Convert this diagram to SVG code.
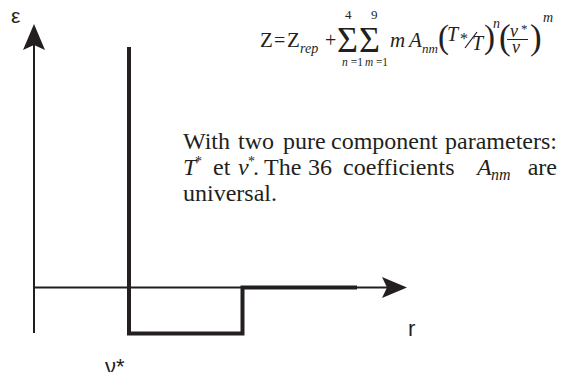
<svg xmlns="http://www.w3.org/2000/svg" width="562" height="372" viewBox="0 0 562 372">
  <style>
    .thin { stroke: #231f20; stroke-width: 2; fill: none; }
    .thick { stroke: #231f20; stroke-width: 4; fill: none; stroke-linejoin: miter; }
    .head { fill: #231f20; }
    .sans { font-family: "Liberation Sans", Arial, sans-serif; fill: #231f20; }
    .serif { font-family: "Liberation Serif", "Times New Roman", serif; fill: #231f20; }
    .it { font-style: italic; }
  </style>
  <rect width="562" height="372" fill="#ffffff"/>

  <g id="connectors">
    <line class="thin" x1="34" y1="44" x2="34" y2="333"/>
    <polygon class="head" points="34,24 23,50 34,45 45,50"/>
    <line class="thin" x1="33" y1="287.5" x2="388" y2="287.5"/>
    <polygon class="head" points="407,287.5 382,277 387,287.5 382,298"/>
    <path class="thick" d="M129,47 V333.5 H242.5 V287.5 H357"/>
  </g>

  <g id="axis-labels">
    <text class="sans" x="11" y="23" font-size="21">ε</text>
    <text class="sans" x="408" y="336" font-size="22">r</text>
    <text class="sans" x="105" y="374" font-size="22">ν*</text>
  </g>

  <g id="formula" class="serif">
    <text x="260" y="47" font-size="21">Z</text>
    <text x="274" y="47" font-size="20">=</text>
    <text x="287" y="47" font-size="21">Z</text>
    <text x="300" y="53" font-size="14" class="it">rep</text>
    <text x="325" y="47" font-size="20">+</text>
    <text x="337" y="52" font-size="36">Σ</text>
    <text x="345" y="19" font-size="13">4</text>
    <text x="359" y="52" font-size="36">Σ</text>
    <text x="371" y="19" font-size="13">9</text>
    <text x="342" y="66" font-size="12" textLength="21" lengthAdjust="spacingAndGlyphs"><tspan class="it">n</tspan> =1</text>
    <text x="365" y="66" font-size="12" textLength="23" lengthAdjust="spacingAndGlyphs"><tspan class="it">m</tspan> =1</text>
    <text x="390" y="47" font-size="21" class="it">m</text>
    <text x="409" y="47" font-size="21" class="it">A</text>
    <text x="422" y="53" font-size="13" class="it">nm</text>
    <text x="438" y="48" font-size="33">(</text>
    <text x="447" y="41" font-size="20" class="it">T</text>
    <text x="460" y="44" font-size="16">*</text>
    <line x1="465" y1="48" x2="477" y2="32" stroke="#231f20" stroke-width="1.2"/>
    <text x="472" y="50" font-size="20" class="it">T</text>
    <text x="484" y="48" font-size="33">)</text>
    <text x="493" y="28" font-size="14" class="it">n</text>
    <text x="499" y="49" font-size="35">(</text>
    <text x="510" y="37" font-size="18" class="it">ν</text>
    <text x="521" y="33" font-size="13">*</text>
    <line x1="507" y1="39.5" x2="528" y2="39.5" stroke="#231f20" stroke-width="1"/>
    <text x="512" y="53" font-size="18" class="it">ν</text>
    <text x="530" y="49" font-size="35">)</text>
    <text x="543" y="22" font-size="14" class="it">m</text>
  </g>

  <g id="description" class="serif" font-size="24">
    <text y="149"><tspan x="183">With</tspan><tspan x="238">two</tspan><tspan x="283">pure</tspan><tspan x="331">component</tspan><tspan x="557" text-anchor="end">parameters:</tspan></text>
    <text y="175"><tspan x="183" class="it">T</tspan><tspan x="195" dy="-9" font-size="14">*</tspan><tspan x="213" dy="9">et</tspan><tspan x="238" class="it">v</tspan><tspan x="248" dy="-9" font-size="14">*</tspan><tspan x="253" dy="9">.</tspan><tspan x="264">The</tspan><tspan x="308">36</tspan><tspan x="343">coefficients</tspan><tspan x="477" class="it">A</tspan><tspan x="491" dy="5" font-size="16" class="it">nm</tspan><tspan x="557" dy="-5" text-anchor="end">are</tspan></text>
    <text x="183" y="201">universal.</text>
  </g>
</svg>
